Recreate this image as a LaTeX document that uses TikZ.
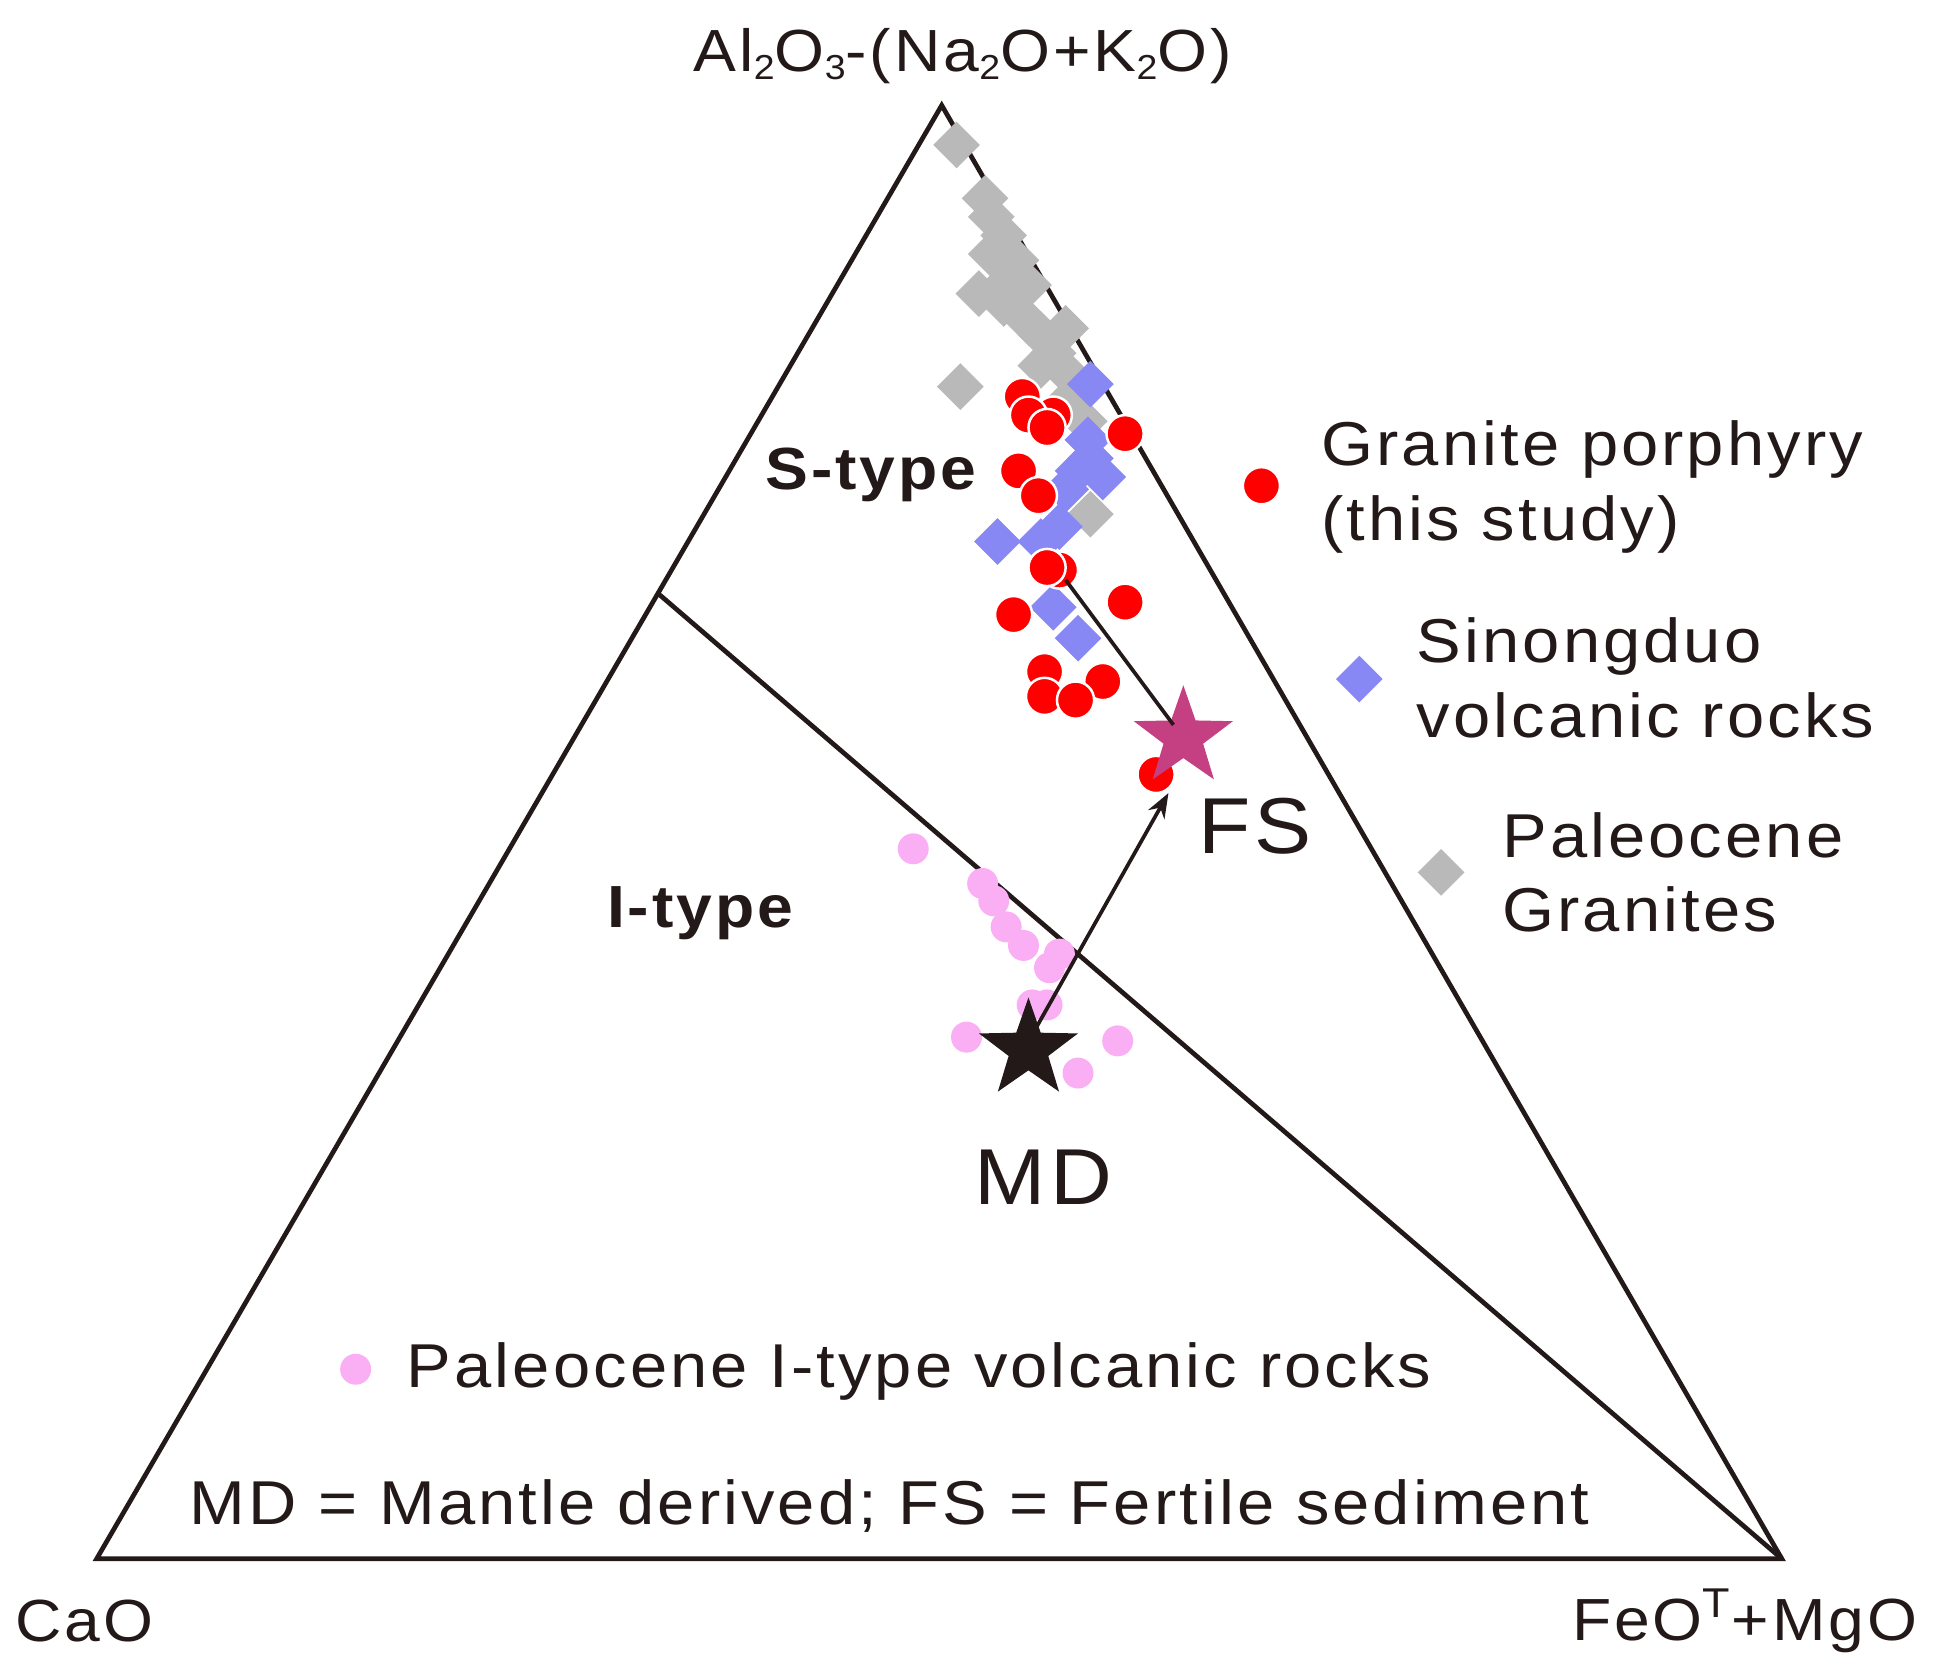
\documentclass[tikz,border=0pt]{standalone}
\usepackage{fontspec}
\setmainfont{Liberation Sans}[FakeStretch=1.08,LetterSpace=5]
\usetikzlibrary{shapes.geometric,arrows.meta}
\definecolor{gr}{RGB}{185,185,185}
\definecolor{bl}{RGB}{136,136,245}
\definecolor{pk}{RGB}{250,175,245}
\definecolor{mg}{RGB}{196,64,130}
\definecolor{ln}{RGB}{35,25,25}
\tikzset{
 rd/.style={circle,fill=red,draw=white,line width=1pt,minimum size=15pt,inner sep=0pt},
 bd/.style={diamond,fill=bl,minimum size=19pt,inner sep=0pt},
 gd/.style={diamond,fill=gr,minimum size=19pt,inner sep=0pt},
 pd/.style={circle,fill=pk,minimum size=12.5pt,inner sep=0pt},
 lbl/.style={font=\fontsize{24}{28}\selectfont,text=ln,inner sep=0pt},
 leg/.style={font=\fontsize{25}{30}\selectfont,text=ln,inner sep=0pt,anchor=west,align=left},
}
\newcommand{\sbs}[1]{\raisebox{-0.25ex}{\fontsize{14}{14}\selectfont #1}}
\begin{document}
\begin{tikzpicture}[x=0.5pt,y=-0.5pt]
\useasboundingbox (0,0) rectangle (1560,1346);
\coordinate (T) at (760,85); \coordinate (L) at (78,1258); \coordinate (R) at (1438,1258);
\coordinate (D) at (530,478);
\draw[ln,line width=1.9pt] (T)--(L)--(R)--cycle;
\draw[ln,line width=1.9pt] (D)--(R);
\foreach \p in {(772,117),(795,160),(800,175),(810,190),(800,205),(820,210),(815,225),(830,230),(790,237),(810,245),(830,260),(840,270),(860,265),(850,285),(840,295),(860,300),(775,312),(865,320),(880,415),(875,340)} \node[gd] at \p {};
\foreach \p in {(880,310),(878,355),(870,380),(890,385),(860,395),(805,437),(840,437),(855,425),(850,490),(870,515),(880,370)} \node[bd] at \p {};
\foreach \p in {(737,685),(793,713),(802,727),(812,748),(826,763),(855,770),(847,781),(833,811),(845,811),(780,837),(902,840),(870,866)} \node[pd] at \p {};
\foreach \p in {(825,320),(850,335),(830,335),(845,345),(908,350),(822,380),(838,400),(855,460),(845,458),(818,496),(908,486),(843,542),(890,550),(843,562),(868,565),(933,625)} \node[rd] at \p {};
\node[star,star points=5,star point ratio=2.5,fill=ln,minimum size=42pt,inner sep=0pt] (md) at (830,847) {};
\node[star,star points=5,star point ratio=2.5,fill=mg,minimum size=42pt,inner sep=0pt] (fs) at (955,595) {};
\coordinate (a1) at (837,828); \coordinate (a2) at (943,640);
\draw[ln,line width=1.5pt,-{Stealth[length=10pt]}] (a1)--(a2);
\coordinate (b1) at (947,585); \coordinate (b2) at (860,468);
\draw[ln,line width=1.5pt] (b1)--(b2);
\node[lbl] (top) at (777,45) {Al\sbs{2}O\sbs{3}-(Na\sbs{2}O+K\sbs{2}O)};
\node[lbl] (cao) at (68,1308) {CaO};
\node[lbl] (fm) at (1408,1308) {FeO\textsuperscript{T}+MgO};
\node[lbl,font=\fontsize{24}{28}\bfseries] (st) at (703,383) {S-type};
\node[lbl,font=\fontsize{24}{28}\bfseries] (it) at (565,737) {I-type};
\node[lbl,font=\fontsize{32}{36}\selectfont] (fsl) at (1013,667) {FS};
\node[lbl,font=\fontsize{32}{36}\selectfont] (mdl) at (842,950) {MD};
\node[rd] (l1) at (1018,392) {};
\node[leg] at (1066,393) {Granite porphyry\\(this study)};
\node[bd] (l2) at (1097,548) {};
\node[leg] at (1143,547) {Sinongduo\\volcanic rocks};
\node[gd] (l3) at (1163,704) {};
\node[leg] at (1212,704) {Paleocene\\Granites};
\node[pd] (l4) at (287,1105) {};
\node[leg] at (328,1107) {Paleocene I-type volcanic rocks};
\node[lbl,font=\fontsize{25}{30}\selectfont] at (718,1215) {MD = Mantle derived; FS = Fertile sediment};
\end{tikzpicture}
\end{document}
